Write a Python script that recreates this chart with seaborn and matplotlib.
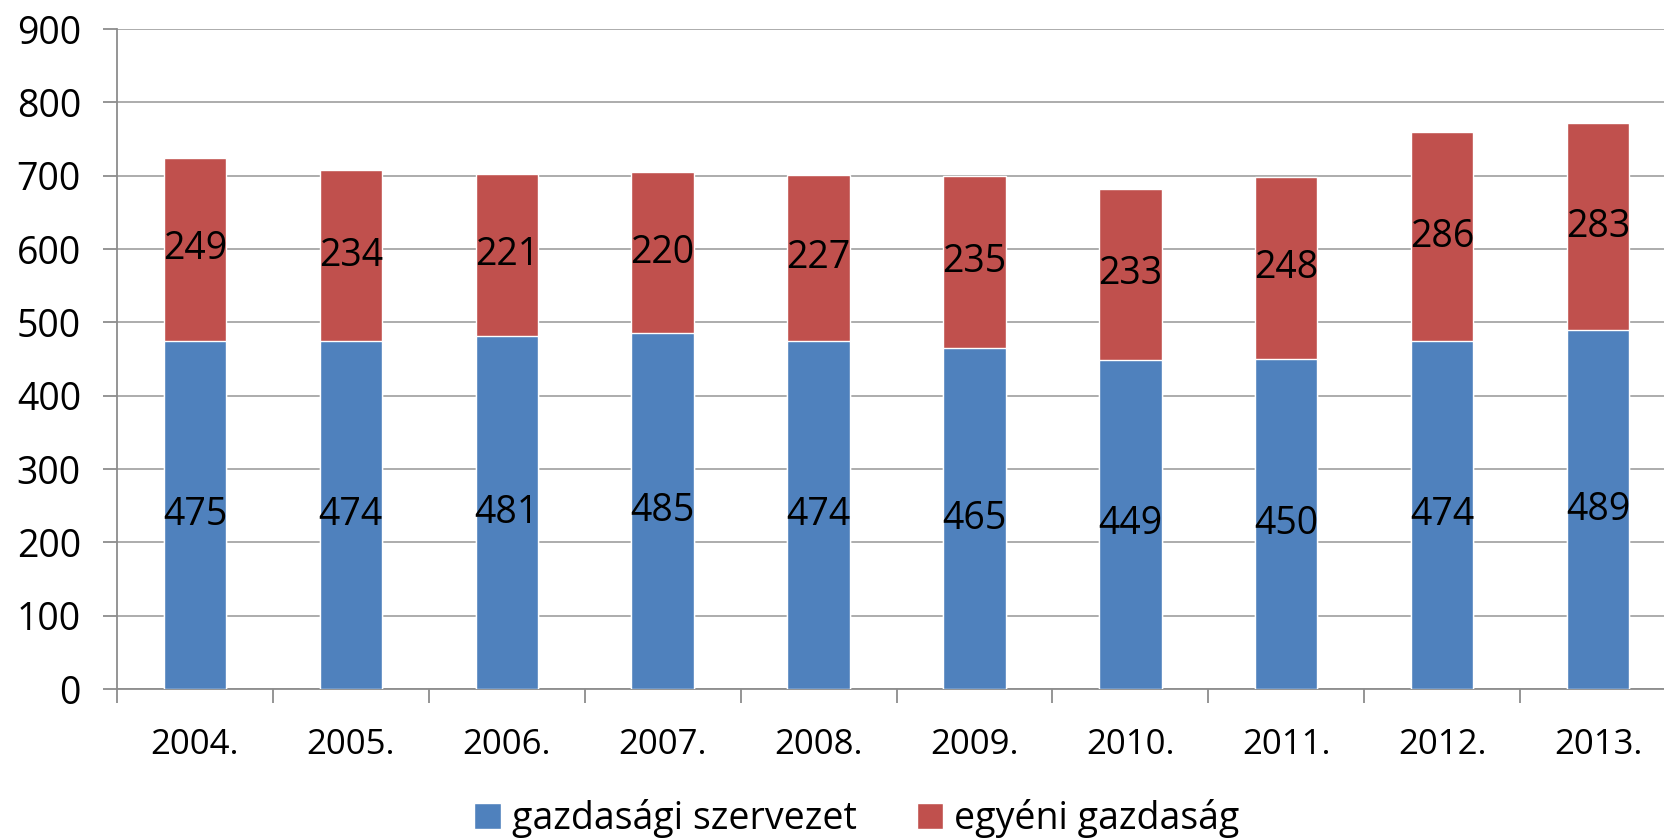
import pandas as pd
import matplotlib
matplotlib.use("Agg")
import matplotlib.pyplot as plt
import seaborn as sns
from matplotlib.patches import Patch

years = ["2004.", "2005.", "2006.", "2007.", "2008.", "2009.", "2010.", "2011.", "2012.", "2013."]
gazdasagi = [475, 474, 481, 485, 474, 465, 449, 450, 474, 489]
egyeni = [249, 234, 221, 220, 227, 235, 233, 248, 286, 283]
series_names = ["gazdasági szervezet", "egyéni gazdaság"]
blue = "#4F81BD"
red = "#C0504D"

sns.set_style("white")
plt.rcParams["font.family"] = ["Open Sans", "DejaVu Sans"]
plt.rcParams["text.color"] = "black"
plt.rcParams["xtick.color"] = "black"
plt.rcParams["ytick.color"] = "black"

df = pd.DataFrame({"year": years, "gazd": gazdasagi, "egy": egyeni})
df["total"] = df["gazd"] + df["egy"]

fig = plt.figure(figsize=(16.64, 8.38), dpi=100)
ax = fig.add_axes([117 / 1664, 1 - 689 / 838, 1559 / 1664, 660 / 838])

# red = total height, blue drawn over it -> stacked look
sns.barplot(data=df, x="year", y="total", color=red, width=0.4, saturation=1, ax=ax, zorder=3)
sns.barplot(data=df, x="year", y="gazd", color=blue, width=0.4, saturation=1, ax=ax, zorder=4)

fs = 27
for i, row in df.iterrows():
    ax.text(i, row["gazd"] / 2, str(row["gazd"]), ha="center", va="center", fontsize=fs, color="black", zorder=5)
    ax.text(i, row["gazd"] + row["egy"] / 2, str(row["egy"]), ha="center", va="center", fontsize=fs,
            color="black", zorder=5)

ax.set_xlim(-0.5, len(years) - 0.5)
ax.set_ylim(0, 900)
ax.set_yticks(range(0, 901, 100))
ax.yaxis.grid(True, color="#A6A6A6", linewidth=1.3, zorder=0)
ax.set_xlabel("")
ax.set_ylabel("")

for s in ["top", "right"]:
    ax.spines[s].set_visible(False)
for s in ["left", "bottom"]:
    ax.spines[s].set_color("#8C8C8C")
    ax.spines[s].set_linewidth(1.3)

ax.tick_params(axis="y", length=10, width=1.3, color="#8C8C8C", pad=16, labelsize=fs, left=True)
ax.set_xticks(range(len(years)))
ax.set_xticklabels(years)
ax.tick_params(axis="x", which="major", length=0, pad=28, labelsize=25)
ax.set_xticks([i - 0.5 for i in range(len(years) + 1)], minor=True)
ax.tick_params(axis="x", which="minor", length=10, width=1.3, color="#8C8C8C", bottom=True)

handles = [Patch(facecolor=blue, label=series_names[0]), Patch(facecolor=red, label=series_names[1])]
fig.legend(handles=handles, loc="lower center", bbox_to_anchor=(0.515, -0.04), ncol=2, frameon=False,
           fontsize=fs, handlelength=0.7, handleheight=0.7, handletextpad=0.3, columnspacing=1.6)

fig.savefig("out.png", dpi=100)
